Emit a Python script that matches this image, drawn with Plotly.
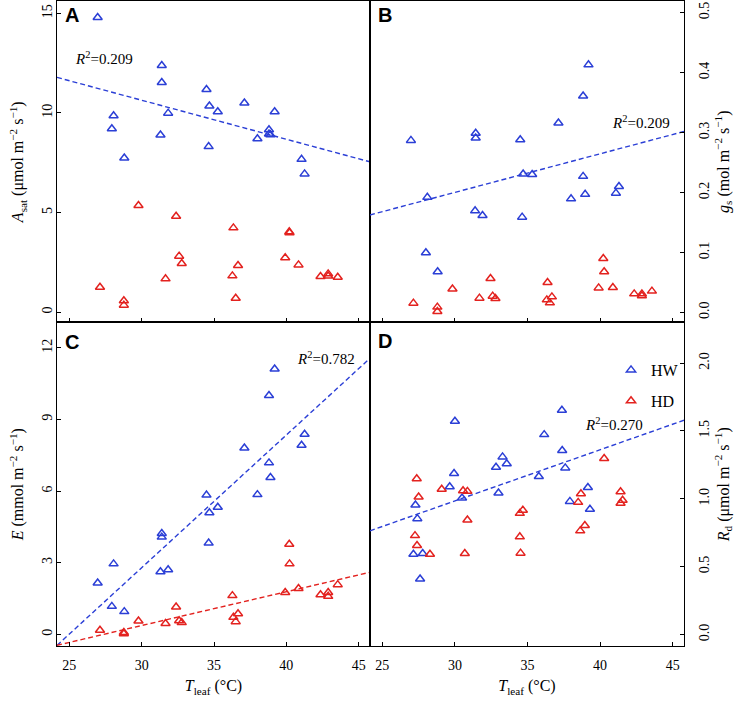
import numpy as np
import plotly.graph_objects as go

# ---------------- data ----------------
# Panel A: A_sat (umol m-2 s-1) vs T_leaf
a_hw_t = [26.96, 27.94, 28.06, 28.8, 31.3, 31.39, 31.39, 31.83, 34.48, 34.63,
          34.68, 35.26, 37.1, 38.0, 38.8, 38.8, 38.9, 39.19, 41.05, 41.26]
a_hw_v = [14.79, 9.21, 9.86, 7.74, 8.89, 12.38, 11.53, 9.99, 11.18, 8.31,
          10.35, 10.06, 10.5, 8.7, 9.16, 8.94, 8.9, 10.06, 7.67, 6.94]
a_hd_t = [27.12, 28.77, 28.77, 29.78, 31.65, 32.38, 32.59, 32.77, 36.27, 36.34,
          36.5, 36.66, 39.92, 40.2, 40.22, 40.84, 42.36, 42.89, 42.89, 43.55]
a_hd_v = [1.25, 0.57, 0.35, 5.35, 1.67, 4.81, 2.81, 2.44, 1.82, 4.23,
          0.70, 2.34, 2.73, 4.03, 3.98, 2.37, 1.79, 1.92, 1.81, 1.75]

# Panel B: g_s (mol m-2 s-1)
b_hw_t = [26.97, 28.0, 28.1, 28.81, 31.43, 31.43, 31.39, 31.9, 34.5, 34.63,
          34.7, 35.32, 37.13, 38.0, 38.83, 38.83, 38.97, 39.2, 41.09, 41.3]
b_hw_v = [0.287, 0.0995, 0.192, 0.068, 0.299, 0.291, 0.1695, 0.1617, 0.288, 0.159,
          0.231, 0.230, 0.316, 0.1895, 0.361, 0.227, 0.197, 0.413, 0.199, 0.210]
b_hd_t = [27.14, 28.79, 28.79, 29.83, 31.69, 32.45, 32.6, 32.79, 36.33, 36.38,
          36.54, 36.68, 39.9, 40.22, 40.28, 40.88, 42.35, 42.88, 42.88, 43.57]
b_hd_v = [0.0155, 0.0089, 0.0017, 0.039, 0.0239, 0.0567, 0.0272, 0.0233, 0.021, 0.050,
          0.016, 0.026, 0.041, 0.090, 0.068, 0.0417, 0.031, 0.031, 0.028, 0.0356]

# Panel C: E (mmol m-2 s-1)
c_hw_t = a_hw_t
c_hw_v = [2.15, 1.17, 2.95, 0.95, 2.62, 4.22, 4.07, 2.70, 5.83, 3.82,
          5.09, 5.32, 7.80, 5.85, 10.0, 7.18, 6.57, 11.11, 7.92, 8.38]
c_hd_t = a_hd_t
c_hd_v = [0.17, 0.08, 0.02, 0.56, 0.45, 1.14, 0.57, 0.49, 1.62, 0.71,
          0.53, 0.86, 1.75, 3.77, 2.95, 1.92, 1.66, 1.75, 1.59, 2.08]

# Panel D: R_d (umol m-2 s-1)
d_hw_t = [27.14, 27.28, 27.41, 27.6, 27.78, 29.64, 29.94, 30.0, 30.49, 32.83,
          33.0, 33.28, 33.57, 35.78, 36.15, 37.37, 37.39, 37.6, 37.92, 39.16, 39.3]
d_hw_v = [0.592, 0.954, 0.854, 0.409, 0.597, 1.089, 1.187, 1.571, 1.006, 1.233,
          1.043, 1.309, 1.258, 1.165, 1.473, 1.652, 1.356, 1.228, 0.981, 1.084, 0.923]
d_hd_t = [27.37, 27.5, 27.25, 27.39, 28.28, 29.09, 30.56, 30.86, 30.86, 30.68,
          34.47, 34.68, 34.47, 34.52, 38.49, 38.68, 38.63, 38.95, 40.28, 41.41, 41.41, 41.55]
d_hd_v = [1.148, 1.013, 0.729, 0.656, 0.592, 1.07, 1.06, 1.055, 0.844, 0.597,
          0.893, 0.916, 0.72, 0.60, 0.974, 1.037, 0.764, 0.803, 1.297, 1.052, 0.967, 0.989]

r2_labels = ["0.209", "0.209", "0.782", "0.270"]
panel_letters = ["A", "B", "C", "D"]
series_names = ["HW", "HD"]
x_ticks = [25, 30, 35, 40, 45]
a_ticks = [0, 5, 10, 15]
b_ticks = [0.0, 0.1, 0.2, 0.3, 0.4, 0.5]
c_ticks = [0, 3, 6, 9, 12]
d_ticks = [0.0, 0.5, 1.0, 1.5, 2.0]

# ---------------- style ----------------
BLUE = "#2b3fd6"
RED = "#e3221f"
SERIF = "Liberation Serif"
XR = [24.15, 45.78]
XSPLIT = 0.4992
YSPLIT = 0.5016

fig = go.Figure()


def pts(t, v, color, xa, ya, name, show):
    fig.add_trace(go.Scatter(
        x=t, y=v, mode="markers", name=name, showlegend=show,
        legendgroup=name,
        marker=dict(symbol="triangle-up-open", size=8, color=color,
                    line=dict(width=1.5, color=color)),
        xaxis=xa, yaxis=ya))


def fit(t, v, color, xa, ya):
    k, b = np.polyfit(np.asarray(t, float), np.asarray(v, float), 1)
    xs = np.array(XR)
    fig.add_trace(go.Scatter(
        x=xs, y=k * xs + b, mode="lines", showlegend=False, hoverinfo="skip",
        line=dict(color=color, width=1.4, dash="5px,3px"),
        xaxis=xa, yaxis=ya))


panels = [
    (a_hw_t, a_hw_v, a_hd_t, a_hd_v, "x", "y", False),
    (b_hw_t, b_hw_v, b_hd_t, b_hd_v, "x2", "y2", False),
    (c_hw_t, c_hw_v, c_hd_t, c_hd_v, "x3", "y3", True),
    (d_hw_t, d_hw_v, d_hd_t, d_hd_v, "x4", "y4", False),
]
for i, (ht, hv, dt, dv, xa, ya, hdfit) in enumerate(panels):
    fit(ht, hv, BLUE, xa, ya)
    if hdfit:
        fit(dt, dv, RED, xa, ya)
    pts(ht, hv, BLUE, xa, ya, series_names[0], i == 3)
    pts(dt, dv, RED, xa, ya, series_names[1], i == 3)

tickfont = dict(family=SERIF, size=14, color="black")
titlefont = dict(family=SERIF, size=16, color="black")
common = dict(showline=True, linecolor="black", linewidth=1, mirror=True,
              ticks="inside", ticklen=4, tickcolor="black", tickwidth=1,
              showgrid=False, zeroline=False, tickfont=tickfont, automargin=False)

xt = "<i>T</i><sub>leaf</sub> (°C)"


def xaxis(dom, anchor, labels):
    d = dict(common, domain=dom, anchor=anchor, range=XR, tickvals=x_ticks,
             showticklabels=labels, ticklabelstandoff=6)
    if labels:
        d["title"] = dict(text=xt, font=titlefont, standoff=8)
    return d


def yaxis(dom, anchor, rng, ticks, fmt, side, title):
    left = side == "left"
    return dict(common, domain=dom, anchor=anchor, range=rng, tickvals=ticks,
                tickformat=fmt, side=side, tickangle=-90,
                ticklabelstandoff=-2 if left else 7,
                title=dict(text=title, font=titlefont, standoff=12 if left else 3))


fig.update_layout(
    width=740, height=701,
    margin=dict(l=57, r=56, t=1, b=55),
    paper_bgcolor="white", plot_bgcolor="white",
    xaxis=xaxis([0, XSPLIT], "y", False),
    xaxis2=xaxis([XSPLIT, 1], "y2", False),
    xaxis3=xaxis([0, XSPLIT], "y3", True),
    xaxis4=xaxis([XSPLIT, 1], "y4", True),
    yaxis=yaxis([YSPLIT, 1], "x", [-0.52, 15.62], a_ticks, "d", "left",
                "<i>A</i><sub>sat</sub> (μmol m<sup>−2</sup> s<sup>−1</sup>)"),
    yaxis2=yaxis([YSPLIT, 1], "x2", [-0.0167, 0.5195], b_ticks, ".1f", "right",
                 "<i>g</i><sub>s</sub> (mol m<sup>−2</sup> s<sup>−1</sup>)"),
    yaxis3=yaxis([0, YSPLIT], "x3", [-0.49, 13.06], c_ticks, "d", "left",
                 "<i>E</i> (mmol m<sup>−2</sup> s<sup>−1</sup>)"),
    yaxis4=yaxis([0, YSPLIT], "x4", [-0.084, 2.299], d_ticks, ".1f", "right",
                 "<i>R</i><sub>d</sub> (μmol m<sup>−2</sup> s<sup>−1</sup>)"),
    legend=dict(x=0.8836, y=0.4543, xanchor="left", yanchor="top",
                bgcolor="rgba(0,0,0,0)", borderwidth=0,
                font=dict(family=SERIF, size=16, color="black"),
                tracegroupgap=7, itemwidth=30),
    showlegend=True,
)

# R^2 labels and panel letters (positions in paper fractions)
r2_pos = [(0.0255, 0.9116), (0.882, 0.8124), (0.3796, 0.4465), (0.839, 0.3442)]
letter_pos = [(0.0239, 0.979), (0.523, 0.979), (0.0239, 0.4713), (0.523, 0.473)]
for i in range(4):
    fig.add_annotation(x=r2_pos[i][0], y=r2_pos[i][1], xref="paper", yref="paper",
                       text="<i>R</i><sup>2</sup>=" + r2_labels[i], showarrow=False,
                       xanchor="left", yanchor="middle",
                       font=dict(family=SERIF, size=15, color="black"))
    fig.add_annotation(x=letter_pos[i][0], y=letter_pos[i][1], xref="paper", yref="paper",
                       text="<b>" + panel_letters[i] + "</b>", showarrow=False,
                       xanchor="center", yanchor="middle",
                       font=dict(family="Liberation Sans", size=20, color="black"))

# remove the browser's default page margin so the figure sits at the page origin
fig.write_html("out.html", config={"displayModeBar": False},
               post_script="document.body.style.margin='0';")
